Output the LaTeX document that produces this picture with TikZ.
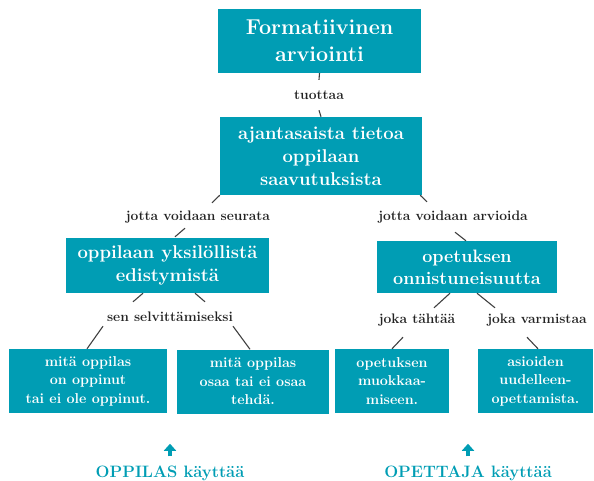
\documentclass[tikz,border=0pt]{standalone}
\usepackage{tikz}
\usetikzlibrary{positioning, arrows.meta}
\definecolor{turkoosi}{HTML}{009DB4}
\definecolor{viiva}{HTML}{404040}
\definecolor{teksti}{HTML}{222222}
\tikzset{
	>={Triangle[width=12pt,length=7pt]},
	% sininen laatikko
	laatikko/.style={rectangle, fill=turkoosi, text=white, align=center, inner sep=2pt},
	% ylin laatikko
	otsikko/.style={laatikko, minimum width=203pt, minimum height=64pt,
	                font=\bfseries\fontsize{21.5}{27}\selectfont},
	% keskitason laatikko
	keski/.style={laatikko, font=\bfseries\fontsize{18.5}{23}\selectfont},
	% alimmat laatikot
	ala/.style={laatikko, minimum height=64pt, font=\bfseries\fontsize{14.3}{18.5}\selectfont},
	% välitekstit
	nimio/.style={font=\bfseries\fontsize{13.8}{16}\selectfont, text=teksti, inner sep=1pt,
	              text height=9.5pt, text depth=3pt},
	% yhdysviiva
	yhdys/.style={draw=viiva, line width=1.1pt},
	% käyttäjä alhaalla
	kayttaja/.style={font=\bfseries\fontsize{16.5}{20}\selectfont, text=turkoosi, inner sep=1pt, anchor=base},
	nuoli/.style={->, turkoosi, line width=4pt},
}

\begin{document}
\begin{tikzpicture}[x=1pt, y=-1pt]
    \useasboundingbox (0,0) rectangle (594,480);

    \node[otsikko] (form) at (319.5,41) {Formatiivinen\\arviointi};
    \node[nimio] (tuottaa) at (319,95.75) {tuottaa};
    \node[keski, minimum width=202pt, minimum height=78pt] (tieto) at (321,156) {ajantasaista tietoa\\oppilaan\\saavutuksista};

    \node[nimio] (seurata) at (198,217.5) {jotta voidaan seurata};
    \node[nimio] (arvioida) at (453,217.5) {jotta voidaan arvioida};

    \node[keski, minimum width=203pt, minimum height=55pt] (edist) at (167.5,265.5) {oppilaan yksilöllistä\\edistymistä};
    \node[keski, font=\bfseries\fontsize{18}{22}\selectfont, minimum width=180pt, minimum height=52pt] (onnist) at (467,267) {opetuksen\\onnistuneisuutta};

    \node[nimio] (selvit) at (170,317.75) {sen selvittämiseksi};
    \node[nimio] (tahtaa) at (417,319.75) {joka tähtää};
    \node[nimio] (varmistaa) at (537,319.75) {joka varmistaa};

    \node[ala, minimum width=158pt] (oppinut) at (88,381) {mitä oppilas\\on oppinut\\tai ei ole oppinut.};
    \node[ala, minimum width=152pt] (osaa) at (253,381.5) {mitä oppilas\\osaa tai ei osaa\\tehdä.};
    \node[ala, minimum width=114pt] (muokkaa) at (392,381) {opetuksen\\muokkaa-\\miseen.};
    \node[ala, minimum width=115pt] (uudelleen) at (535.5,381) {asioiden\\uudelleen-\\opettamista.};

    % yhdysviivat
    \draw[yhdys] (form.south) -- ([yshift=8.5pt]tuottaa.north);
    \draw[yhdys] ([yshift=-7pt]tuottaa.south) -- (tieto.north);
    \draw[yhdys] (tieto.south west) -- ([xshift=14pt,yshift=7.25pt]seurata.north);
    \draw[yhdys] ([xshift=-2pt]tieto.south east) -- ([xshift=-26pt,yshift=8.25pt]arvioida.north);
    \draw[yhdys] ([xshift=-13pt,yshift=-3.25pt]seurata.south) -- ([xshift=7.5pt,yshift=1pt]edist.north);
    \draw[yhdys] ([xshift=2pt,yshift=-7.25pt]arvioida.south) -- ([xshift=-1pt]onnist.north);
    \draw[yhdys] ([xshift=-24.5pt]edist.south) -- ([xshift=-37pt,yshift=8.5pt]selvit.north);
    \draw[yhdys] ([xshift=27.5pt]edist.south) -- ([xshift=35pt,yshift=8.5pt]selvit.north);
    \draw[yhdys] ([xshift=-67pt,yshift=-1pt]selvit.south) -- ([xshift=-1pt]oppinut.north);
    \draw[yhdys] ([xshift=63pt,yshift=-1pt]selvit.south) -- ([xshift=-3pt]osaa.north);
    \draw[yhdys] ([xshift=-17pt]onnist.south) -- ([xshift=17pt,yshift=4.5pt]tahtaa.north);
    \draw[yhdys] ([xshift=10pt]onnist.south) -- ([xshift=-42pt,yshift=4.5pt]varmistaa.north);
    \draw[yhdys] ([xshift=-14pt,yshift=-10pt]tahtaa.south) -- (muokkaa.north);
    \draw[yhdys] ([xshift=-10pt,yshift=-10pt]varmistaa.south) -- ([xshift=2.5pt]uudelleen.north);

    % kuka käyttää
    \node[kayttaja] (oppilas) at (170,477) {OPPILAS käyttää};
    \node[kayttaja] (opettaja) at (468,477) {OPETTAJA käyttää};
    \draw[nuoli] ([yshift=8pt]oppilas.north) -- ([yshift=20.5pt]oppilas.north);
    \draw[nuoli] ([yshift=8pt]opettaja.north) -- ([yshift=20.5pt]opettaja.north);
\end{tikzpicture}
\end{document}
